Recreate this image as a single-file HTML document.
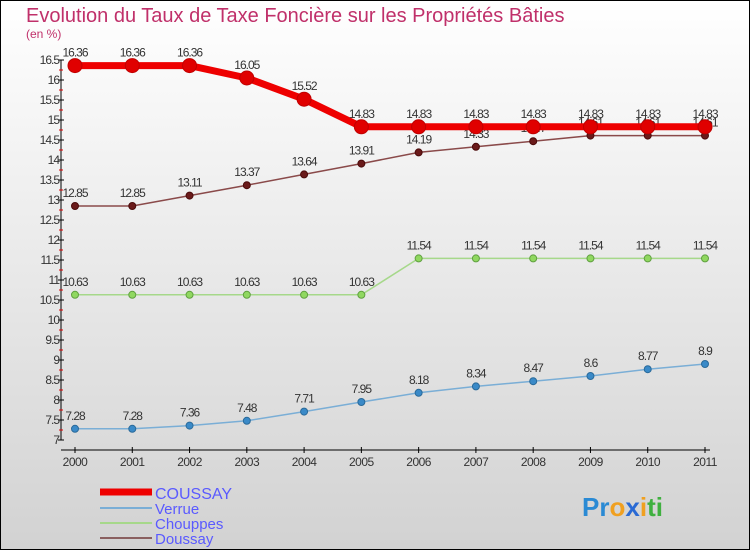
<!DOCTYPE html>
<html><head><meta charset="utf-8"><style>
body{margin:0;width:750px;height:550px;overflow:hidden}
svg{display:block;font-family:"Liberation Sans",sans-serif}
</style></head><body>
<svg id="c" width="750" height="550" xmlns="http://www.w3.org/2000/svg">
<defs><linearGradient id="bg" x1="0" y1="0" x2="0" y2="1"><stop offset="0" stop-color="#ffffff"/><stop offset="1" stop-color="#d2d2d2"/></linearGradient></defs>
<rect x="0.5" y="0.5" width="749" height="549" fill="url(#bg)" stroke="#000"/>
<text x="26" y="22" font-size="20" fill="#c0306a">Evolution du Taux de Taxe Foncière sur les Propriétés Bâties</text>
<text x="26" y="38" font-size="12" fill="#c0306a">(en %)</text>
<g id="axes"></g><g id="series"></g>
<g>
<line x1="100" y1="492" x2="152" y2="492" stroke="#ee0000" stroke-width="7"/>
<text x="155" y="499" font-size="16" fill="#5a5aff">COUSSAY</text>
<line x1="100" y1="508" x2="152" y2="508" stroke="#7aaed6" stroke-width="2"/>
<text x="155" y="514" font-size="15" fill="#5a5aff">Verrue</text>
<line x1="100" y1="523" x2="152" y2="523" stroke="#a6d88a" stroke-width="2"/>
<text x="155" y="529" font-size="15" fill="#5a5aff">Chouppes</text>
<line x1="100" y1="538" x2="152" y2="538" stroke="#8a6060" stroke-width="2"/>
<text x="155" y="544" font-size="15" fill="#5a5aff">Doussay</text>
</g>
<g font-size="26" font-weight="bold">
<text x="582" y="516"><tspan fill="#2a8ad4">Pr</tspan><tspan fill="#f0a020">o</tspan><tspan fill="#2a6ad4">x</tspan><tspan fill="#f0a020">i</tspan><tspan fill="#40b040">ti</tspan></text>
</g>
</svg>
<script>
const years=[2000,2001,2002,2003,2004,2005,2006,2007,2008,2009,2010,2011];
const coussay=[16.36,16.36,16.36,16.05,15.52,14.83,14.83,14.83,14.83,14.83,14.83,14.83];
const doussay=[12.85,12.85,13.11,13.37,13.64,13.91,14.19,14.33,14.47,14.61,14.61,14.61];
const chouppes=[10.63,10.63,10.63,10.63,10.63,10.63,11.54,11.54,11.54,11.54,11.54,11.54];
const verrue=[7.28,7.28,7.36,7.48,7.71,7.95,8.18,8.34,8.47,8.6,8.77,8.9];
const yTicks=[7,7.5,8,8.5,9,9.5,10,10.5,11,11.5,12,12.5,13,13.5,14,14.5,15,15.5,16,16.5];
const NS="http://www.w3.org/2000/svg";
const xS=i=>75+i*(630/11);
const yS=v=>440-(v-7)*40;
function mk(p,t,a){const e=document.createElementNS(NS,t);for(const k in a)e.setAttribute(k,a[k]);p.appendChild(e);return e;}
const ax=document.getElementById('axes');
let e=mk(ax,'line',{x1:61,y1:yS(16.5),x2:61,y2:yS(7),stroke:'#000'});


e=mk(ax,'line',{x1:61,y1:450,x2:710,y2:450,stroke:'#000'});


yTicks.forEach(v=>{
 mk(ax,'line',{x1:58,y1:yS(v),x2:64,y2:yS(v),stroke:'#000'});
 if(v<16.5){mk(ax,'line',{x1:59,y1:yS(v+0.25),x2:63,y2:yS(v+0.25),stroke:'#e00000'});}
 const t=mk(ax,'text',{x:59,y:yS(v)+4,'font-size':12,'text-anchor':'end',fill:'#333','letter-spacing':'-1'});
 t.textContent=String(v);
 
 
});
years.forEach((y,i)=>{
 mk(ax,'line',{x1:xS(i),y1:447,x2:xS(i),y2:453,stroke:'#000'});
 const t=mk(ax,'text',{x:xS(i),y:466,'font-size':12,'text-anchor':'middle',fill:'#333','letter-spacing':'-0.5'});
 t.textContent=String(y);
 
 
});
const sg=document.getElementById('series');
function series(name,vals,color,w,r,dot,dotStroke){
 const g=mk(sg,'g',{});
 
 
 const p=mk(g,'polyline',{points:vals.map((v,i)=>xS(i)+','+yS(v)).join(' '),fill:'none',stroke:color,'stroke-width':w,'stroke-linejoin':'round'});
 
 
 vals.forEach((v,i)=>{
  const c=mk(g,'circle',{cx:xS(i),cy:yS(v),r:r,fill:dot,stroke:dotStroke,'stroke-width':1});
  
  
  const t=mk(g,'text',{x:xS(i),y:yS(v)-9,'font-size':12,'text-anchor':'middle',fill:'#333','letter-spacing':'-1'});
  t.textContent=String(v);
  
  
 });
}
series('verrue',verrue,'#7aaed6',1.5,3.5,'#3a8ac8','#2a6a9a');
series('chouppes',chouppes,'#a6d88a',1.5,3.5,'#90d860','#60a040');
series('doussay',doussay,'#8a4a4a',1.5,3.5,'#6a1a1a','#4a0a0a');
series('coussay',coussay,'#ee0000',7,7,'#e00000','#c00000');
</script>
</body></html>
